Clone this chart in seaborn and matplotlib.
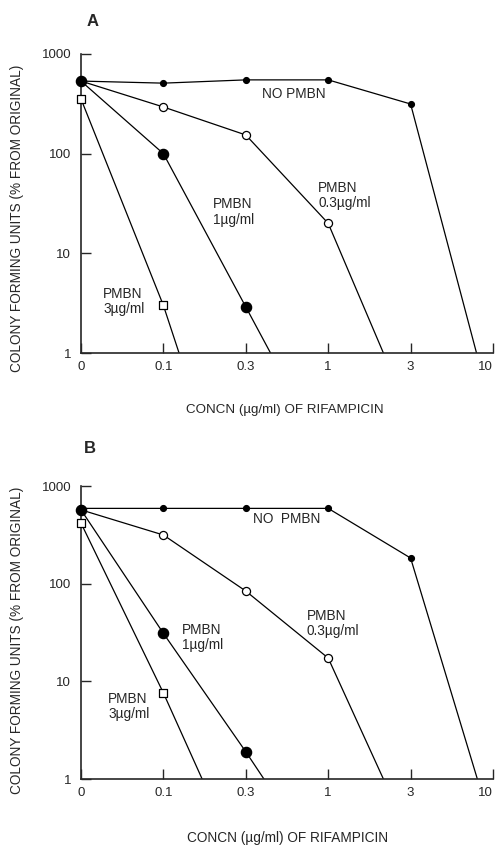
import matplotlib
matplotlib.use("Agg")
import matplotlib.pyplot as plt
import seaborn as sns
import pandas as pd

sns.set_style("ticks")
plt.rcParams['font.family'] = ['Liberation Sans', 'DejaVu Sans']

# ---- data ----
conc_labels = ["0", "0.1", "0.3", "1", "3", "10"]
series_names = ["NO PMBN", "PMBN 0.3µg/ml", "PMBN 1µg/ml", "PMBN 3µg/ml"]

# panel A: measured values at concentrations 0, 0.1, 0.3, 1, 3 (category index order)
a_none = [535, 510, 550, 550, 315]
a_p03 = [535, 294, 154, 20]
a_p1 = [535, 100, 2.9]
a_p3 = [354, 3.0]
# where each line leaves the plot at CFU = 1 (category-axis position)
a_exit = [4.80, 3.67, 2.30, 1.19]

# panel B
b_none = [590, 590, 590, 590, 183]
b_p03 = [570, 315, 84, 17.3]
b_p1 = [570, 31, 1.9]
b_p3 = [417, 7.6]
b_exit = [4.81, 3.67, 2.22, 1.47]

styles = [
    dict(marker="o", s=18, facecolor="black"),
    dict(marker="o", s=34, facecolor="white"),
    dict(marker="o", s=55, facecolor="black"),
    dict(marker="s", s=26, facecolor="white"),
]


def build(values, exits):
    rows = []
    for name, vals, ex in zip(series_names, values, exits):
        for i, v in enumerate(vals):
            rows.append(dict(series=name, x=i, y=v, measured=True))
        rows.append(dict(series=name, x=ex, y=1.0, measured=False))
    return pd.DataFrame(rows)


dfA = build([a_none, a_p03, a_p1, a_p3], a_exit)
dfB = build([b_none, b_p03, b_p1, b_p3], b_exit)

W, H = 497, 846
fig = plt.figure(figsize=(W / 100, H / 100), dpi=100)


def fx(px):
    return px / W


def fy(py):
    return 1 - py / H


def draw(ax, df, labels):
    for name, st in zip(series_names, styles):
        d = df[df.series == name]
        sns.lineplot(data=d, x="x", y="y", ax=ax, color="black", lw=0.9,
                     sort=False, estimator=None, legend=False)
        m = d[d.measured]
        sns.scatterplot(data=m, x="x", y="y", ax=ax, marker=st["marker"],
                        s=st["s"], facecolor=st["facecolor"],
                        edgecolor="black", linewidth=0.9, zorder=5,
                        legend=False, clip_on=False)
    ax.set_yscale("log")
    ax.set_ylim(1, 1000)
    ax.set_xlim(0, 5)
    ax.set_xticks(range(len(conc_labels)))
    ax.set_xticklabels(conc_labels)
    ax.set_yticks([1, 10, 100, 1000])
    ax.set_yticklabels(["1", "10", "100", "1000"])
    ax.minorticks_off()
    ax.tick_params(direction="in", length=7, width=1.0, labelsize=9.5, pad=6)
    ax.tick_params(axis="y", pad=7)
    ax.get_xticklabels()[-1].set_horizontalalignment("right")
    for sp in ["top", "right"]:
        ax.spines[sp].set_visible(False)
    for sp in ["left", "bottom"]:
        ax.spines[sp].set_linewidth(1.2)
    ax.set_xlabel("")
    ax.set_ylabel("")
    for (tx, ty, t) in labels:
        ax.text(tx, ty, t, fontsize=9.8, va="center", ha="left", linespacing=1.1)


# Panel A
axA = fig.add_axes([fx(81), fy(353), fx(493) - fx(81), fy(54) - fy(353)])
draw(axA, dfA, [
    (2.20, 400, "NO PMBN"),
    (2.88, 38, "PMBN\n0.3µg/ml"),
    (1.60, 26, "PMBN\n1µg/ml"),
    (0.27, 3.3, "PMBN\n3µg/ml"),
])
fig.text(fx(87), fy(22), "A", fontsize=12, fontweight="bold", va="center", ha="left")
fig.text(fx(17), fy(218), "COLONY FORMING UNITS (% FROM ORIGINAL)", rotation=90,
         fontsize=9.8, va="center", ha="center")
fig.text(fx(285), fy(410), "CONCN (µg/ml) OF RIFAMPICIN", fontsize=9.6,
         va="center", ha="center")

# Panel B
axB = fig.add_axes([fx(81), fy(779), fx(493) - fx(81), fy(486) - fy(779)])
draw(axB, dfB, [
    (2.09, 455, "NO  PMBN"),
    (2.74, 39, "PMBN\n0.3µg/ml"),
    (1.23, 28, "PMBN\n1µg/ml"),
    (0.33, 5.5, "PMBN\n3µg/ml"),
])
fig.text(fx(84), fy(448), "B", fontsize=12, fontweight="bold", va="center", ha="left")
fig.text(fx(17), fy(640), "COLONY FORMING UNITS (% FROM ORIGINAL)", rotation=90,
         fontsize=9.8, va="center", ha="center")
fig.text(fx(288), fy(838), "CONCN (µg/ml) OF RIFAMPICIN", fontsize=9.8,
         va="center", ha="center")

fig.savefig("out.png", dpi=100, facecolor="white")
